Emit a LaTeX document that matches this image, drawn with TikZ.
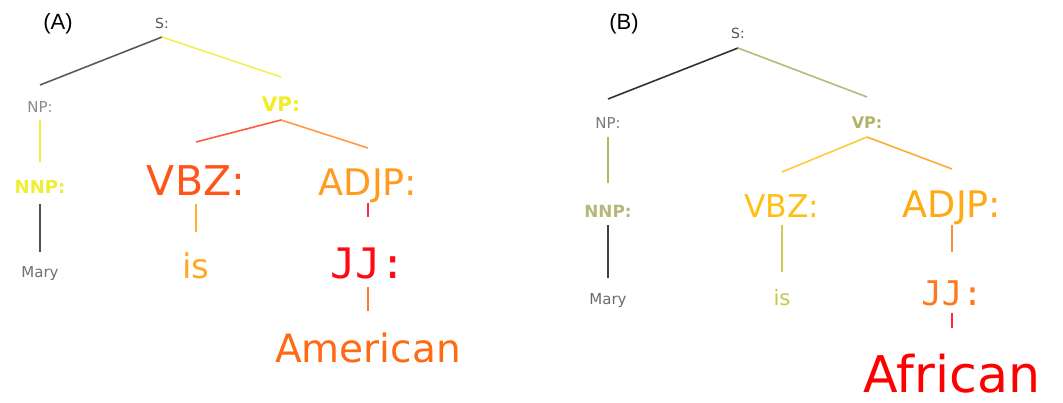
\documentclass[tikz,border=0pt]{standalone}
\usepackage{fontspec}
\setmainfont{DejaVu Sans}
\newfontfamily\monofont{DejaVu Sans Mono}
\newfontfamily\panelfont{Liberation Sans}
\newcommand{\fsz}[1]{\fontsize{#1}{#1}\selectfont}

% tree (A)
\definecolor{aS}{HTML}{555555}
\definecolor{aNP}{HTML}{8A8A8A}
\definecolor{aVP}{HTML}{EEEE22}
\definecolor{aNNP}{HTML}{EEEE33}
\definecolor{aVBZ}{HTML}{FF5519}
\definecolor{aADJP}{HTML}{FF9B1E}
\definecolor{aMary}{HTML}{707070}
\definecolor{ais}{HTML}{FFAA22}
\definecolor{aJJ}{HTML}{FF0A14}
\definecolor{aAm}{HTML}{FF6A14}
\definecolor{aSNP}{HTML}{5A5A5A}
\definecolor{aSVP}{HTML}{F0F050}
\definecolor{aNPNNP}{HTML}{EEEE40}
\definecolor{aVPVBZ}{HTML}{FF5A3C}
\definecolor{aVPADJP}{HTML}{FF9A44}
\definecolor{aNNPMary}{HTML}{505050}
\definecolor{aVBZis}{HTML}{FFAE30}
\definecolor{aADJPJJ}{HTML}{FF2D46}
\definecolor{aJJAm}{HTML}{FF7A2E}
% tree (B)
\definecolor{bS}{HTML}{555555}
\definecolor{bNP}{HTML}{7A7A7A}
\definecolor{bVP}{HTML}{B0B46A}
\definecolor{bNNP}{HTML}{B5B87A}
\definecolor{bVBZ}{HTML}{FFBF14}
\definecolor{bADJP}{HTML}{FFAA14}
\definecolor{bMary}{HTML}{6A6A6A}
\definecolor{bis}{HTML}{C5C84C}
\definecolor{bJJ}{HTML}{FF7A1E}
\definecolor{bAf}{HTML}{FF0000}
\definecolor{bSNP}{HTML}{333333}
\definecolor{bSVP}{HTML}{B7BA7A}
\definecolor{bNPNNP}{HTML}{B4B56A}
\definecolor{bVPVBZ}{HTML}{FFCA3A}
\definecolor{bVPADJP}{HTML}{FFAA30}
\definecolor{bNNPMary}{HTML}{404040}
\definecolor{bVBZis}{HTML}{CCCC55}
\definecolor{bADJPJJ}{HTML}{FF8A3A}
\definecolor{bJJAf}{HTML}{FF2A3A}

\begin{document}
\begin{tikzpicture}[x=0.5pt, y=-0.5pt,
  treenode/.style={inner sep=0pt, anchor=base},
  branch/.style={line width=0.8pt}]
\useasboundingbox (0, 0) rectangle (1063, 402);

% (A)
\node[treenode] (labA) at (58, 29) {\panelfont\fsz{11pt}(A)};
\node[treenode, text=aS] (aS) at (162, 28) {\fsz{7pt}S:};
\node[treenode, text=aNP] (aNP) at (40, 112) {\fsz{7.5pt}NP:};
\node[treenode, text=aVP] (aVP) at (281, 111) {\fsz{10pt}\bfseries VP:};
\node[treenode, text=aNNP] (aNNP) at (40, 193) {\fsz{9pt}\bfseries NNP:};
\node[treenode, text=aVBZ] (aVBZ) at (196, 195) {\fsz{20.5pt}VBZ:};
\node[treenode, text=aADJP] (aADJP) at (368, 195) {\fsz{18.3pt}ADJP:};
\node[treenode, text=aMary] (aMary) at (40, 277) {\fsz{7.5pt}Mary};
\node[treenode, text=ais] (ais) at (196, 278) {\fsz{17pt}is};
\node[treenode, text=aJJ] (aJJ) at (368, 278) {\monofont\fsz{21pt}JJ:};
\node[treenode, text=aAm] (aAm) at (368, 362) {\fsz{19.5pt}American};

\draw[branch, aSNP] ([yshift=-4.5pt]aS.base) -- ([yshift=13.5pt]aNP.base);
\draw[branch, aSVP] ([yshift=-4.5pt]aS.base) -- ([yshift=17pt]aVP.base);
\draw[branch, aNPNNP] ([yshift=-4pt]aNP.base) -- ([yshift=15.5pt]aNNP.base);
\draw[branch, aVPVBZ] ([yshift=-4.5pt]aVP.base) -- ([yshift=26.5pt]aVBZ.base);
\draw[branch, aVPADJP] ([yshift=-4.5pt]aVP.base) -- ([yshift=23.5pt]aADJP.base);
\draw[branch, aNNPMary] ([yshift=-5.5pt]aNNP.base) -- ([yshift=12.5pt]aMary.base);
\draw[branch, aVBZis] ([yshift=-4.5pt]aVBZ.base) -- ([yshift=23pt]ais.base);
\draw[branch, aADJPJJ] ([yshift=-4pt]aADJP.base) -- ([yshift=30.5pt]aJJ.base);
\draw[branch, aJJAm] ([yshift=-4.5pt]aJJ.base) -- ([yshift=25.5pt]aAm.base);

% (B)
\node[treenode] (labB) at (624, 29) {\panelfont\fsz{11pt}(B)};
\node[treenode, text=bS] (bS) at (738, 38) {\fsz{7pt}S:};
\node[treenode, text=bNP] (bNP) at (608, 128) {\fsz{7.5pt}NP:};
\node[treenode, text=bVP] (bVP) at (867, 128) {\fsz{8pt}\bfseries VP:};
\node[treenode, text=bNNP] (bNNP) at (608, 217) {\fsz{8.4pt}\bfseries NNP:};
\node[treenode, text=bVBZ] (bVBZ) at (782, 217) {\fsz{15.7pt}VBZ:};
\node[treenode, text=bADJP] (bADJP) at (952, 217) {\fsz{18.3pt}ADJP:};
\node[treenode, text=bMary] (bMary) at (608, 304) {\fsz{7.5pt}Mary};
\node[treenode, text=bis] (bis) at (782, 305) {\fsz{10.6pt}is};
\node[treenode, text=bJJ] (bJJ) at (952, 305) {\monofont\fsz{17pt}JJ:};
\node[treenode, text=bAf] (bAf) at (952, 392) {\fsz{25.3pt}African};

\draw[branch, bSNP] ([yshift=-5pt]bS.base) -- ([yshift=14.5pt]bNP.base);
\draw[branch, bSVP] ([yshift=-5pt]bS.base) -- ([yshift=15.5pt]bVP.base);
\draw[branch, bNPNNP] ([yshift=-4.5pt]bNP.base) -- ([yshift=17pt]bNNP.base);
\draw[branch, bVPVBZ] ([yshift=-4.5pt]bVP.base) -- ([yshift=22.5pt]bVBZ.base);
\draw[branch, bVPADJP] ([yshift=-4.5pt]bVP.base) -- ([yshift=24pt]bADJP.base);
\draw[branch, bNNPMary] ([yshift=-4pt]bNNP.base) -- ([yshift=13pt]bMary.base);
\draw[branch, bVBZis] ([yshift=-4pt]bVBZ.base) -- ([yshift=16.5pt]bis.base);
\draw[branch, bADJPJJ] ([yshift=-4pt]bADJP.base) -- ([yshift=26.5pt]bJJ.base);
\draw[branch, bJJAf] ([yshift=-4pt]bJJ.base) -- ([yshift=32pt]bAf.base);
\end{tikzpicture}
\end{document}
